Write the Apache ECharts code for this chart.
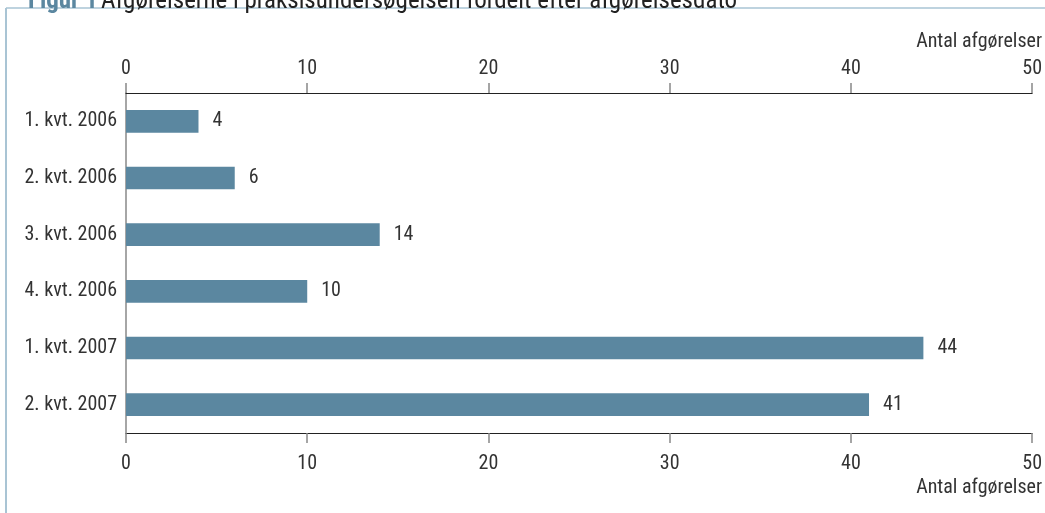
<!DOCTYPE html>
<html>
<head>
<meta charset="utf-8">
<script src="https://cdn.jsdelivr.net/npm/echarts@6/dist/echarts.min.js"></script>
<style>
  html, body { margin: 0; padding: 0; background: #fff; }
  #chart { width: 1045px; height: 513px; }
</style>
</head>
<body>
<div id="chart"></div>
<script>
// data
const categories = ['1. kvt. 2006', '2. kvt. 2006', '3. kvt. 2006', '4. kvt. 2006', '1. kvt. 2007', '2. kvt. 2007'];
const counts = [4, 6, 14, 10, 44, 41];
const axisTicks = [0, 10, 20, 30, 40, 50];
const axisName = 'Antal afgørelser';

const FONT = '"Roboto Condensed", "DejaVu Sans Condensed", sans-serif';
const TXT = '#333';
const BAR = '#5b87a0';
const FRAME = '#a9c4d4';
const FS = 20;

const chart = echarts.init(document.getElementById('chart'));

// both x axes share the same scale, only label offset differs
function valueAxis(pos, margin) {
  return {
    type: 'value',
    position: pos,
    min: axisTicks[0],
    max: axisTicks[axisTicks.length - 1],
    interval: axisTicks[1] - axisTicks[0],
    axisLine: { show: true, lineStyle: { color: '#222', width: 1.2 } },
    axisTick: { show: true, length: 10, lineStyle: { color: '#888', width: 1.5 } },
    axisLabel: { color: TXT, fontFamily: FONT, fontSize: FS, margin: margin },
    splitLine: { show: false }
  };
}

chart.setOption({
  animation: false,
  grid: { left: 126, right: 12, top: 93, bottom: 80, containLabel: false },
  xAxis: [valueAxis('top', 14), valueAxis('bottom', 21)],
  yAxis: {
    type: 'category',
    data: categories,
    inverse: true,
    axisLine: { show: true, lineStyle: { color: '#888', width: 1.5 } },
    axisTick: { show: false },
    axisLabel: { color: TXT, fontFamily: FONT, fontSize: FS, margin: 9 }
  },
  series: [{
    type: 'bar',
    data: counts,
    xAxisIndex: 0,
    barWidth: '40%',
    itemStyle: { color: BAR },
    label: {
      show: true,
      position: 'right',
      distance: 14,
      color: TXT,
      fontFamily: FONT,
      fontSize: FS
    }
  }],
  graphic: [
    // light frame, top and left
    { type: 'line', shape: { x1: 6, y1: 8, x2: 1045, y2: 8 }, style: { stroke: FRAME, lineWidth: 1.5 } },
    { type: 'line', shape: { x1: 6, y1: 8, x2: 6, y2: 513 }, style: { stroke: FRAME, lineWidth: 2 } },
    {
      type: 'text', left: 28, top: -11,
      style: {
        text: '{a|Figur 1} {b|Afgørelserne i praksisundersøgelsen fordelt efter afgørelsesdato}',
        rich: {
          a: { fill: BAR, fontFamily: FONT, fontSize: 25, fontWeight: 'bold' },
          b: { fill: '#222', fontFamily: FONT, fontSize: 25 }
        }
      }
    },
    { type: 'text', right: 3, top: 32, style: { text: axisName, fill: TXT, font: FS + 'px ' + FONT } },
    { type: 'text', right: 3, top: 478, style: { text: axisName, fill: TXT, font: FS + 'px ' + FONT } }
  ]
});
</script>
</body>
</html>
